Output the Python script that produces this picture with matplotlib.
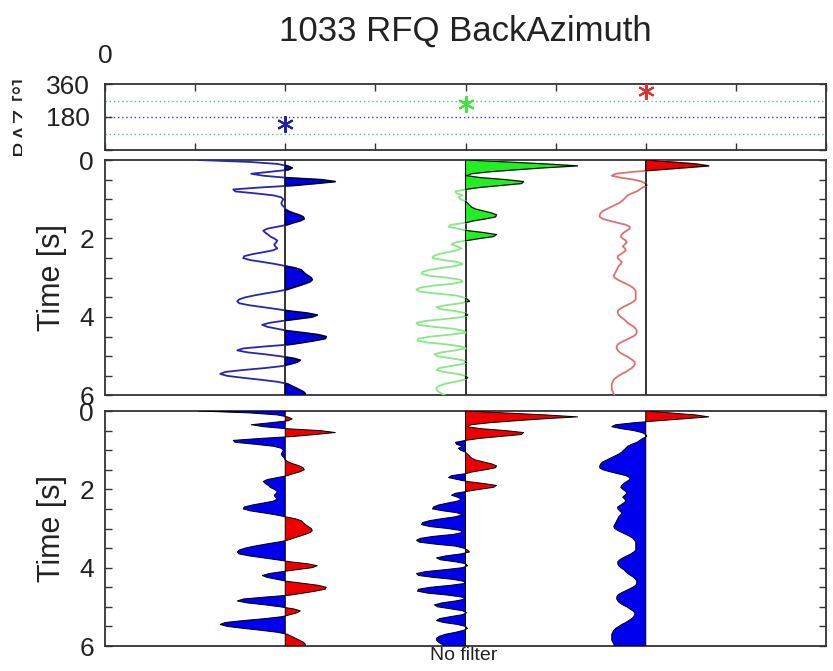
import numpy as np
import matplotlib
matplotlib.use("Agg")
import matplotlib.pyplot as plt
from matplotlib.transforms import Bbox, TransformedBbox

plt.rcParams['font.family'] = ['Liberation Sans', 'DejaVu Sans']

# ---------------------------------------------------------------- data
DT = 0.05                      # sample interval [s]
GAIN = 1.11                    # trace gain (plot x-units per amplitude unit)

# receiver functions, amplitude x100, one sample every DT from 0 s to 6 s
rf_a = [-87, -35, -8, 2, 7, 3, -15, -34, -22, 0,
        35, 50, 30, 8, -25, -52, -50, -30, -12, -4,
        -2, -3, -4, -3, -1, 0, 3, 8, 14, 18,
        19, 15, 8, 2, -8, -18, -22, -20, -17, -15,
        -11, -8, -9, -11, -10, -8, -12, -22, -33, -41,
        -42, -35, -22, -10, 0, 10, 16, 18, 20, 23,
        26, 27, 25, 20, 14, 8, 2, -8, -20, -31,
        -40, -46, -48, -46, -36, -22, -8, 5, 22, 32,
        27, 12, -3, -16, -23, -18, -8, 2, 18, 33,
        41, 40, 30, 18, 5, -20, -42, -48, -38, -20,
        -5, 8, 15, 12, 5, -3, -20, -42, -60, -65,
        -58, -42, -24, -8, 2, 6, 10, 14, 18, 20,
        20]

rf_b = [0, 40, 80, 112, 78, 50, 24, 6, 1, 15,
        40, 58, 56, 35, 14, 0, -10, -9, -3, -7,
        -5, 0, 2, 4, 6, 10, 18, 26, 31, 30,
        20, 8, 0, -14, -17, -8, 2, 18, 31, 28,
        14, 2, -10, -14, -8, -4, -8, -18, -27, -32,
        -33, -22, -8, -3, -10, -24, -36, -43, -44, -36,
        -18, -5, -3, -12, -32, -45, -49, -46, -30, -10,
        -2, 2, 4, -5, -20, -29, -25, -10, 0, 2,
        -3, -20, -40, -49, -47, -32, -12, -2, 0, -15,
        -35, -47, -48, -38, -18, -4, 0, -10, -24, -31,
        -28, -15, -3, 1, -3, -15, -26, -29, -22, -8,
        0, 2, -2, -10, -20, -26, -29, -29, -27, -24,
        -20]

rf_c = [0, 25, 50, 63, 38, 12, -12, -30, -34, -25,
        -12, -4, 0, 1, -3, -6, -9, -14, -18, -20,
        -22, -24, -27, -31, -35, -39, -43, -45, -46, -46,
        -43, -36, -28, -20, -16, -16, -19, -22, -24, -25,
        -23, -20, -19, -21, -23, -21, -20, -22, -25, -28,
        -28, -26, -24, -25, -27, -28, -29, -30, -31, -32,
        -31, -28, -24, -20, -16, -13, -11, -10, -10, -10,
        -10, -10, -12, -15, -19, -23, -26, -28, -28, -27,
        -25, -22, -20, -18, -15, -12, -10, -9, -9, -10,
        -13, -17, -21, -25, -28, -29, -29, -28, -26, -23,
        -19, -16, -13, -11, -11, -12, -14, -17, -20, -24,
        -27, -30, -32, -33, -34, -34, -34, -34, -33, -32,
        -31]

trace_pos = [2, 4, 6]          # x position of each trace
back_azimuth = [140, 249, 323] # degrees
baz_guides = [90, 180, 270]

time_ticks = [0, 0.5, 1, 1.5, 2, 2.5, 3, 3.5, 4, 4.5, 5, 5.5, 6]
time_labels = ['0', '', '', '', '2', '', '', '', '4', '', '', '', '6']
baz_ticks = [0, 180, 360]
baz_labels = ['', '180', '360']

# ---------------------------------------------------------------- styles
line_cols = ['#2626b4', '#86e886', '#e07070']
fill_cols = ['#0000e0', '#22ee22', '#ee0000']
star_cols = ['#2020b0', '#44e044', '#e03030']
guide_cols = ['#60b8a0', '#404098', '#60b8a0']
SPINE = '#333333'

W, H = 833, 671
fig = plt.figure(figsize=(W / 100, H / 100), dpi=100)


def fig_rect(left, top, right, bottom):
    return [left / W, 1 - bottom / H, (right - left) / W, (bottom - top) / H]


ax_top = fig.add_axes(fig_rect(105, 84, 826, 150))
ax_mid = fig.add_axes(fig_rect(105, 160, 826, 395.5))
ax_bot = fig.add_axes(fig_rect(105, 411, 826, 646))

for ax in (ax_top, ax_mid, ax_bot):
    for s in ax.spines.values():
        s.set_color(SPINE)
        s.set_linewidth(1.3)
    ax.set_xlim(0, 8)
    ax.tick_params(direction='in', length=5, width=1, color=SPINE,
                   top=True, right=True, labelsize=19, labelcolor='#222222')

ax_top.set_xticks(range(0, 9))
ax_top.set_xticklabels([])
for ax in (ax_mid, ax_bot):
    ax.set_xticks([])

# back azimuth strip
for yv, c in zip(baz_guides, guide_cols):
    ax_top.axhline(yv, color=c, lw=1.0, ls=(0, (1, 2)), zorder=1)
for xp, b, c in zip(trace_pos, back_azimuth, star_cols):
    ax_top.plot([xp], [b], marker=(6, 2, 0), ms=12, mew=1.5, color=c,
                ls='none', zorder=3)
ax_top.set_ylim(0, 360)
ax_top.set_yticks(baz_ticks)
ax_top.set_yticklabels(baz_labels)
ax_top.tick_params(axis='y', pad=11)

# trace panels
t = np.arange(len(rf_a)) * DT
traces = [np.asarray(v, dtype=float) / 100 * GAIN for v in (rf_a, rf_b, rf_c)]

for xp, a, lc, fc in zip(trace_pos, traces, line_cols, fill_cols):
    # wiggle with positive lobes shaded
    ax_mid.axvline(xp, color=SPINE, lw=1.4, zorder=2)
    ax_mid.plot(xp + a, t, color=lc, lw=1.3, zorder=3)
    ax_mid.fill_betweenx(t, xp, xp + a, where=a > 0, interpolate=True,
                         facecolor=fc, edgecolor='black', lw=0.8, zorder=4)
    # both polarities shaded
    ax_bot.fill_betweenx(t, xp, xp + a, where=a >= 0, interpolate=True,
                         facecolor='#ee0000', edgecolor='black', lw=0.7,
                         zorder=3)
    ax_bot.fill_betweenx(t, xp, xp + a, where=a <= 0, interpolate=True,
                         facecolor='#0000ee', edgecolor='black', lw=0.7,
                         zorder=3)

for ax in (ax_mid, ax_bot):
    ax.set_ylim(6, 0)
    ax.set_yticks(time_ticks)
    ax.set_yticklabels(time_labels)
    ax.tick_params(axis='y', pad=8)
    cy = (ax.get_position().y0 + ax.get_position().y1) / 2
    fig.text(52 / W, cy, 'Time [s]', rotation=90, ha='center', va='center',
             fontsize=22, color='#222222')

# captions
fig.text(465 / W, 1 - 31 / H, '1033 RFQ BackAzimuth', ha='center',
         va='center', fontsize=25, color='#222222')
fig.text(105 / W, 1 - 56 / H, '0', ha='center', va='center', fontsize=19,
         color='#222222')
fig.text(464 / W, 1 - 656 / H, 'No filter', ha='center', va='center',
         fontsize=14, color='#222222')

baz_label = fig.text(25 / W, 1 - 117 / H, 'BAZ [°]', rotation=90,
                     ha='center', va='center', fontsize=18, color='#222222')
baz_label.set_clip_box(TransformedBbox(Bbox([[0, 0], [22 / W, 1]]),
                                       fig.transFigure))
baz_label.set_clip_on(True)

fig.savefig('out.png', dpi=100)
